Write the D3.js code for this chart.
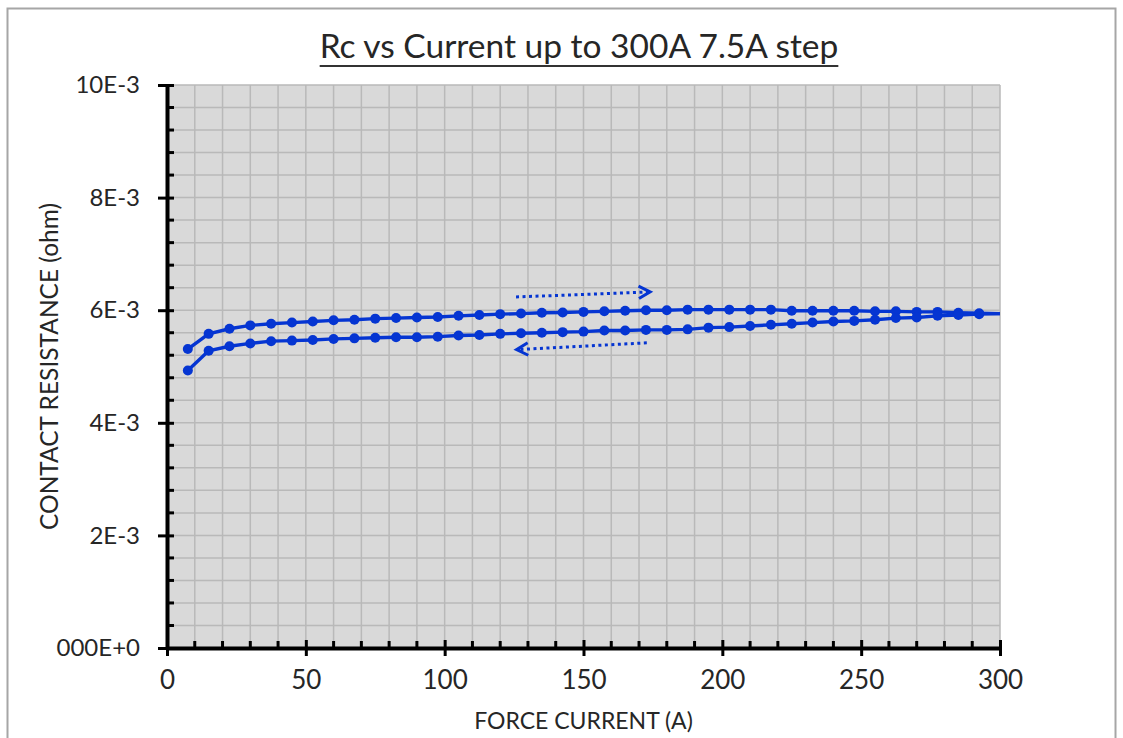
<!DOCTYPE html>
<html>
<head>
<meta charset="utf-8">
<script src="https://cdn.jsdelivr.net/npm/d3@7"></script>
<style>
  html, body { margin: 0; padding: 0; background: #fff; }
  svg text { font-family: Lato, "Open Sans", sans-serif; fill: #262626; }
</style>
</head>
<body>
<div id="chart"></div>
<script>
// Force current steps (A), 7.5 A step
const currents = [7.5, 15, 22.5, 30, 37.5, 45, 52.5, 60, 67.5, 75, 82.5, 90, 97.5, 105, 112.5,
  120, 127.5, 135, 142.5, 150, 157.5, 165, 172.5, 180, 187.5, 195, 202.5, 210, 217.5, 225,
  232.5, 240, 247.5, 255, 262.5, 270, 277.5, 285, 292.5, 300];

// Contact resistance in mOhm, ramp up (upper curve)
const rampUp = [5.31, 5.58, 5.67, 5.73, 5.76, 5.78, 5.80, 5.82, 5.83, 5.85, 5.86, 5.87, 5.88, 5.90, 5.915,
  5.93, 5.94, 5.955, 5.96, 5.97, 5.98, 5.99, 6.00, 6.00, 6.01, 6.01, 6.01, 6.01, 6.01, 5.99,
  5.99, 5.99, 5.99, 5.98, 5.98, 5.97, 5.97, 5.955, 5.945, 5.94];

// Contact resistance in mOhm, ramp down (lower curve)
const rampDown = [4.93, 5.28, 5.36, 5.41, 5.45, 5.46, 5.47, 5.49, 5.50, 5.51, 5.52, 5.52, 5.53, 5.55, 5.56,
  5.58, 5.59, 5.60, 5.61, 5.62, 5.64, 5.64, 5.65, 5.65, 5.66, 5.69, 5.70, 5.72, 5.74, 5.76,
  5.78, 5.80, 5.81, 5.83, 5.86, 5.87, 5.90, 5.915, 5.93, 5.94];

// Axis ticks
const xTicks = [0, 50, 100, 150, 200, 250, 300];
const yTicks = [0, 2e-3, 4e-3, 6e-3, 8e-3, 10e-3];
const yTickLabels = ['000E+0', '2E-3', '4E-3', '6E-3', '8E-3', '10E-3'];

// Direction arrows (A, ohm): [start, tip]
const arrowUp = [[125.7, 6.235e-3], [174.0, 6.325e-3]];
const arrowDown = [[172.8, 5.42e-3], [125.9, 5.30e-3]];

const width = 1123, height = 738;
const margin = { top: 85, right: 123, bottom: 90, left: 167 };
const innerW = width - margin.left - margin.right;
const innerH = height - margin.top - margin.bottom;
const blue = '#0535d2';

const svg = d3.select('#chart')
  .append('svg')
  .attr('width', width)
  .attr('height', height);

// Chart border
svg.append('rect')
  .attr('x', 7.5).attr('y', 8.5)
  .attr('width', 1108).attr('height', 760)
  .attr('fill', 'none')
  .attr('stroke', '#a6a6a6')
  .attr('stroke-width', 2);

const x = d3.scaleLinear().domain([0, 300]).range([0, innerW]);
const y = d3.scaleLinear().domain([0, 10e-3]).range([innerH, 0]);

const g = svg.append('g').attr('transform', `translate(${margin.left},${margin.top})`);

// Plot area
g.append('rect')
  .attr('width', innerW).attr('height', innerH)
  .attr('fill', '#d9d9d9');

// Gridlines
g.append('g')
  .selectAll('line')
  .data(d3.range(10, 301, 10))
  .join('line')
  .attr('x1', d => x(d)).attr('x2', d => x(d))
  .attr('y1', 0).attr('y2', innerH)
  .attr('stroke', '#b9b9b9')
  .attr('stroke-width', 1.5);

g.append('g')
  .selectAll('line')
  .data(d3.range(1, 26).map(i => i * 0.4e-3))
  .join('line')
  .attr('x1', 0).attr('x2', innerW)
  .attr('y1', d => y(d)).attr('y2', d => y(d))
  .attr('stroke', '#b9b9b9')
  .attr('stroke-width', 1.5);

// Minor ticks (inside)
g.append('g')
  .selectAll('line')
  .data(d3.range(10, 300, 10).filter(d => d % 50 !== 0))
  .join('line')
  .attr('x1', d => x(d)).attr('x2', d => x(d))
  .attr('y1', innerH).attr('y2', innerH - 7)
  .attr('stroke', '#000').attr('stroke-width', 3);

g.append('g')
  .selectAll('line')
  .data(d3.range(1, 25).map(i => i * 0.4e-3).filter((d, i) => (i + 1) % 5 !== 0))
  .join('line')
  .attr('x1', 0).attr('x2', 7)
  .attr('y1', d => y(d)).attr('y2', d => y(d))
  .attr('stroke', '#000').attr('stroke-width', 3);

// Axes
const xAxis = g.append('g')
  .attr('transform', `translate(0,${innerH})`)
  .call(d3.axisBottom(x).tickValues(xTicks).tickSizeInner(8).tickSizeOuter(0).tickPadding(15));
xAxis.select('.domain').attr('stroke', '#000').attr('stroke-width', 4);
xAxis.selectAll('.tick line').attr('stroke', '#000').attr('stroke-width', 3).attr('y1', -8);
xAxis.selectAll('.tick text').attr('font-size', 26).style('font-family', 'Lato, sans-serif').attr('fill', '#262626');

const yAxis = g.append('g')
  .call(d3.axisLeft(y).tickValues(yTicks).tickFormat((d, i) => yTickLabels[i]).tickSizeInner(9).tickSizeOuter(0).tickPadding(18));
yAxis.select('.domain').attr('stroke', '#000').attr('stroke-width', 4);
yAxis.selectAll('.tick line').attr('stroke', '#000').attr('stroke-width', 3).attr('x2', -9).attr('x1', 7);
yAxis.selectAll('.tick text').attr('font-size', 24).style('font-family', 'Lato, sans-serif').attr('fill', '#262626');

// Series
const line = d3.line()
  .x((d, i) => x(currents[i]))
  .y(d => y(d * 1e-3));

[rampUp, rampDown].forEach(series => {
  g.append('path')
    .datum(series)
    .attr('fill', 'none')
    .attr('stroke', blue)
    .attr('stroke-width', 3.4)
    .attr('d', line);

  g.append('g')
    .selectAll('circle')
    .data(series.filter((d, i) => currents[i] < 300))
    .join('circle')
    .attr('cx', (d, i) => x(currents[i]))
    .attr('cy', d => y(d * 1e-3))
    .attr('r', 5)
    .attr('fill', blue);
});

// Dotted direction arrows
function drawArrow(pts) {
  const [p0, p1] = pts.map(p => [x(p[0]), y(p[1])]);
  const ang = Math.atan2(p1[1] - p0[1], p1[0] - p0[0]);
  const len = 13, spread = 0.5;
  g.append('line')
    .attr('x1', p0[0]).attr('y1', p0[1])
    .attr('x2', p1[0] - Math.cos(ang) * 3).attr('y2', p1[1] - Math.sin(ang) * 3)
    .attr('stroke', blue)
    .attr('stroke-width', 3)
    .attr('stroke-dasharray', '3,3.5');
  const head = [
    [p1[0] - len * Math.cos(ang - spread), p1[1] - len * Math.sin(ang - spread)],
    p1,
    [p1[0] - len * Math.cos(ang + spread), p1[1] - len * Math.sin(ang + spread)]
  ];
  g.append('path')
    .attr('d', d3.line()(head))
    .attr('fill', 'none')
    .attr('stroke', blue)
    .attr('stroke-width', 3);
}
drawArrow(arrowUp);
drawArrow(arrowDown);

// Title
const title = svg.append('text')
  .attr('x', 579).attr('y', 58)
  .attr('text-anchor', 'middle')
  .attr('font-size', 33.5)
  .text('Rc vs Current up to 300A 7.5A step');
const tb = title.node().getBBox();
svg.append('line')
  .attr('x1', tb.x).attr('x2', tb.x + tb.width)
  .attr('y1', 66).attr('y2', 66)
  .attr('stroke', '#333').attr('stroke-width', 2);

// Axis titles
svg.append('text')
  .attr('x', margin.left + innerW / 2).attr('y', 729)
  .attr('text-anchor', 'middle')
  .attr('font-size', 23)
  .text('FORCE CURRENT (A)');

svg.append('text')
  .attr('transform', `translate(58,${margin.top + innerH / 2}) rotate(-90)`)
  .attr('text-anchor', 'middle')
  .attr('font-size', 24.5)
  .text('CONTACT RESISTANCE (ohm)');
</script>
</body>
</html>
